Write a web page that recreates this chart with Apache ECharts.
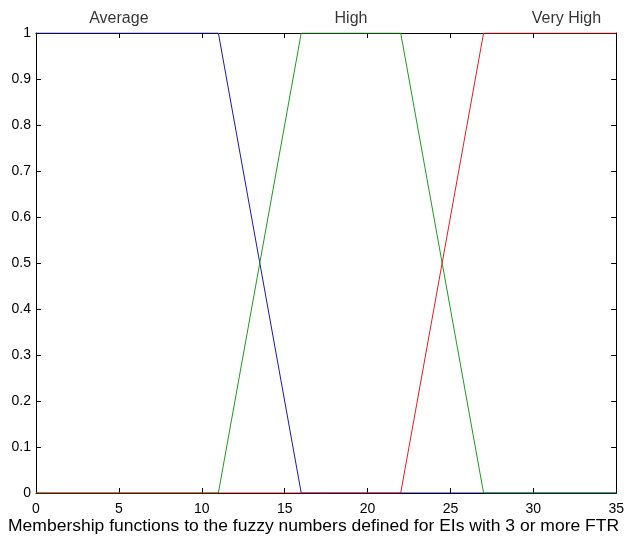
<!DOCTYPE html>
<html lang="en">
<head>
    <meta charset="UTF-8">
    <title>Membership functions</title>
    <script src="https://cdn.jsdelivr.net/npm/echarts@6/dist/echarts.min.js"></script>
    <style>
        html, body { margin: 0; padding: 0; background: #fff; }
    </style>
</head>
<body>
    <div id="chart" style="width: 627px;height: 540px;"></div>
    <script>
        // membership functions (x, degree)
        let average = [[0, 1], [11, 1], [16, 0], [35, 0]];
        let high = [[0, 0], [11, 0], [16, 1], [22, 1], [27, 0], [35, 0]];
        let veryHigh = [[0, 0], [22, 0], [27, 1], [35, 1]];

        // labels above the plot
        let mfNames = ['Average', 'High', 'Very High'];
        let mfLabelX = [5, 19, 32];

        let xLabel = 'Membership functions to the fuzzy numbers defined for EIs with 3 or more FTR';

        let font = 'Liberation Sans, Arial, sans-serif';
        let myChart = echarts.init(document.getElementById('chart'));

        let xBase = {
            type: 'value', min: 0, max: 35, interval: 5,
            splitLine: { show: false },
            axisLine: { show: true, onZero: false, lineStyle: { color: '#000', width: 1 } },
            axisTick: { show: true, inside: true, length: 5, lineStyle: { color: '#000' } }
        };
        let yBase = {
            type: 'value', min: 0, max: 1, interval: 0.1,
            splitLine: { show: false },
            axisLine: { show: true, onZero: false, lineStyle: { color: '#000', width: 1 } },
            axisTick: { show: true, inside: true, length: 5, lineStyle: { color: '#000' } }
        };

        let option = {
            animation: false,
            backgroundColor: '#fff',
            grid: { left: 36, right: 8, top: 33, bottom: 47, containLabel: false },
            xAxis: [
                Object.assign({}, xBase, {
                    position: 'bottom',
                    axisLabel: { color: '#000', fontSize: 14, fontFamily: font, margin: 9 }
                }),
                Object.assign({}, xBase, { position: 'top', axisLabel: { show: false } })
            ],
            yAxis: [
                Object.assign({}, yBase, {
                    position: 'left',
                    axisLabel: {
                        color: '#000', fontSize: 14, fontFamily: font, margin: 5,
                        formatter: v => (v === 0 || v === 1) ? String(v) : v.toFixed(1)
                    }
                }),
                Object.assign({}, yBase, { position: 'right', axisLabel: { show: false } })
            ],
            graphic: [{
                type: 'text', left: 8, top: 518, scaleX: 1.03,
                style: { text: xLabel, fill: '#000', fontSize: 17, fontFamily: font }
            }],
            series: [
                {
                    type: 'line', data: average, symbol: 'none',
                    lineStyle: { color: '#1a1aa8', width: 1 }
                },
                {
                    type: 'line', data: high, symbol: 'none',
                    lineStyle: { color: '#1f9a1f', width: 1 }
                },
                {
                    type: 'line', data: veryHigh, symbol: 'none',
                    lineStyle: { color: '#e02020', width: 1 }
                },
                {
                    type: 'scatter', symbolSize: 0, silent: true,
                    data: mfNames.map((n, i) => ({ value: [mfLabelX[i], 1], name: n })),
                    label: {
                        show: true, position: 'top', distance: 6,
                        formatter: p => p.name,
                        color: '#000', fontSize: 16, fontFamily: font
                    }
                }
            ]
        };
        myChart.setOption(option);
    </script>
</body>
</html>
